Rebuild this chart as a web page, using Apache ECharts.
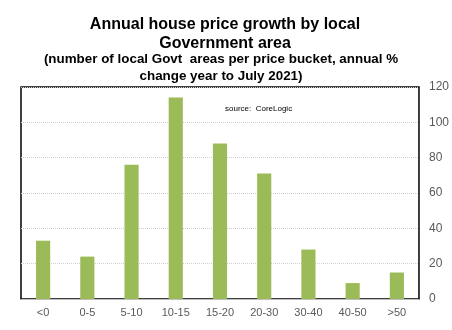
<!DOCTYPE html>
<html><head><meta charset="utf-8">
<script src="https://cdn.jsdelivr.net/npm/echarts@6/dist/echarts.min.js"></script>
<style>html,body{margin:0;padding:0;background:#fff}#c{width:452px;height:330px}</style>
</head><body><div id="c"></div>
<script>
var categories = ['<0','0-5','5-10','10-15','15-20','20-30','30-40','40-50','>50'];
var counts = [33,24,76,114,88,71,28,9,15];
var yTicks = [0,20,40,60,80,100,120];
var titleText = 'Annual house price growth by local\nGovernment area';
var subtitleText = '(number of local Govt  areas per price bucket, annual %\nchange year to July 2021)';
var sourceText = 'source:  CoreLogic';

var chart = echarts.init(document.getElementById('c'), null, {renderer:'canvas'});
chart.setOption({
  animation:false,
  backgroundColor:'#fff',
  title:[{
    text:titleText, left:220, top:10, textAlign:'center',
    textStyle:{fontFamily:'Liberation Sans, Arial', fontWeight:'bold', fontSize:16, lineHeight:19, color:'#000'}
  },{
    text:subtitleText, left:216, top:46, textAlign:'center',
    textStyle:{fontFamily:'Liberation Sans, Arial', fontWeight:'bold', fontSize:13.4, lineHeight:17, color:'#000'}
  },{
    text:sourceText, left:220, top:100,
    textStyle:{fontFamily:'Liberation Sans, Arial', fontWeight:'normal', fontSize:8, color:'#000'}
  }],
  grid:{left:21, right:33, top:87, bottom:31, show:true, borderColor:'#000', borderWidth:1.5, containLabel:false},
  xAxis:{type:'category', data:categories,
    axisLine:{lineStyle:{color:'#bfbfbf', width:1}}, axisTick:{show:false},
    axisLabel:{color:'#595959', fontSize:11, fontFamily:'Liberation Sans, Arial', margin:8}},
  yAxis:{type:'value', position:'right', min:0, max:120, interval:20,
    axisLine:{show:false}, axisTick:{show:false},
    splitLine:{lineStyle:{color:'#d0d0d0', type:[1,1], width:1}},
    axisLabel:{color:'#595959', fontSize:12, fontFamily:'Liberation Sans, Arial', margin:10,
      formatter:function(v){return yTicks.indexOf(v)>=0?String(v):'';}}},
  series:[{type:'bar', data:counts, barWidth:'32%', itemStyle:{color:'#9BBB59'}}]
});
</script></body></html>
